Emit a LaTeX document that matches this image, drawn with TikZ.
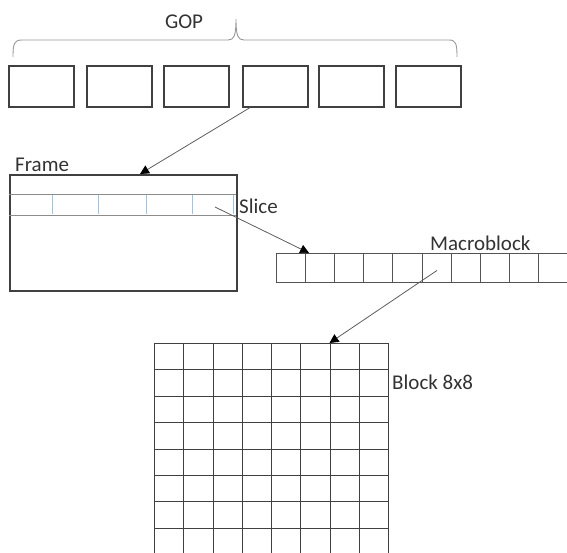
\documentclass[tikz,border=0pt]{standalone}
\usepackage{fontspec}
\setmainfont{Carlito}
\usetikzlibrary{arrows.meta,calc}
\definecolor{txt}{HTML}{333333}
\definecolor{ln}{HTML}{404040}
\definecolor{slblue}{HTML}{9DC3E6}
\tikzset{
  lbl/.style={font=\fontsize{21}{25}\selectfont, text=txt, inner sep=0pt},
  gopbox/.style={draw=ln, line width=1.6pt, minimum width=65pt, minimum height=41pt, inner sep=0pt, anchor=north west},
  mbcell/.style={draw=ln!90, line width=0.9pt, minimum width=29.1pt, minimum height=29pt, inner sep=0pt, anchor=north west},
  gcell/.style={draw=ln, line width=0.9pt, minimum width=29.25pt, minimum height=26.4pt, inner sep=0pt, anchor=north west},
  link/.style={draw=ln!85, line width=0.8pt, -{Triangle[length=9pt,width=9pt,color=black]}},
}
\begin{document}
\begin{tikzpicture}[x=1pt,y=-1pt]
\useasboundingbox (0,0) rectangle (567,552);
% GOP label and brace
\node[lbl] (gop) at (184,22) {GOP};
\draw[gray!80, line width=0.9pt] (13,57) .. controls (13,44) and (14,40) .. (22,40)
  -- (228,40) .. controls (234,40) and (236,36) .. (236,19)
  .. controls (236,36) and (238,40) .. (244,40) -- (449,40)
  .. controls (456,40) and (457,44) .. (457,57);
% GOP frames
\foreach \i/\x in {1/8,2/86,3/163,4/242,5/318,6/395}{
  \node[gopbox] (g\i) at (\x,65) {};
}
% Frame
\node[lbl, anchor=west] (framelbl) at (15,165) {Frame};
\node[draw=ln, line width=1.6pt, minimum width=227pt, minimum height=116pt, inner sep=0pt, anchor=north west] (frame) at (9,174) {};
% Slice row
\draw[gray!90, line width=0.9pt] (9,194) -- (236,194);
\draw[gray!90, line width=0.9pt] (9,215) -- (236,215);
\foreach \i/\x in {1/52,2/98,3/146,4/192,5/233}{
  \draw[slblue, line width=1pt] (\x,195) -- (\x,214);
}
\coordinate (slicepick) at (215,207);
\node[lbl, anchor=west] (slicelbl) at (239,206) {Slice};
% Macroblock row
\node[lbl, anchor=west] (mblbl) at (430,243) {Macroblock};
\foreach \i in {0,...,9}{
  \node[mbcell] (m\i) at ({276+29.1*\i},253) {};
}
% Block grid
\foreach \r in {0,...,7}{
  \foreach \c in {0,...,7}{
    \node[gcell] (b\r\c) at ({154+29.25*\c},{343+26.4*\r}) {};
  }
}
\node[lbl, anchor=west] (blocklbl) at (392,382) {Block 8x8};
% Arrows
\draw[link] ($(g4.south west)+(8,0)$) -- ($(frame.north west)+(131,0)$);
\draw[link] (slicepick) -- ($(m1.north west)+(4,0)$);
\draw[link] ($(m5.center)+(0.5,2.5)$) -- (b06.north west);
\end{tikzpicture}
\end{document}
